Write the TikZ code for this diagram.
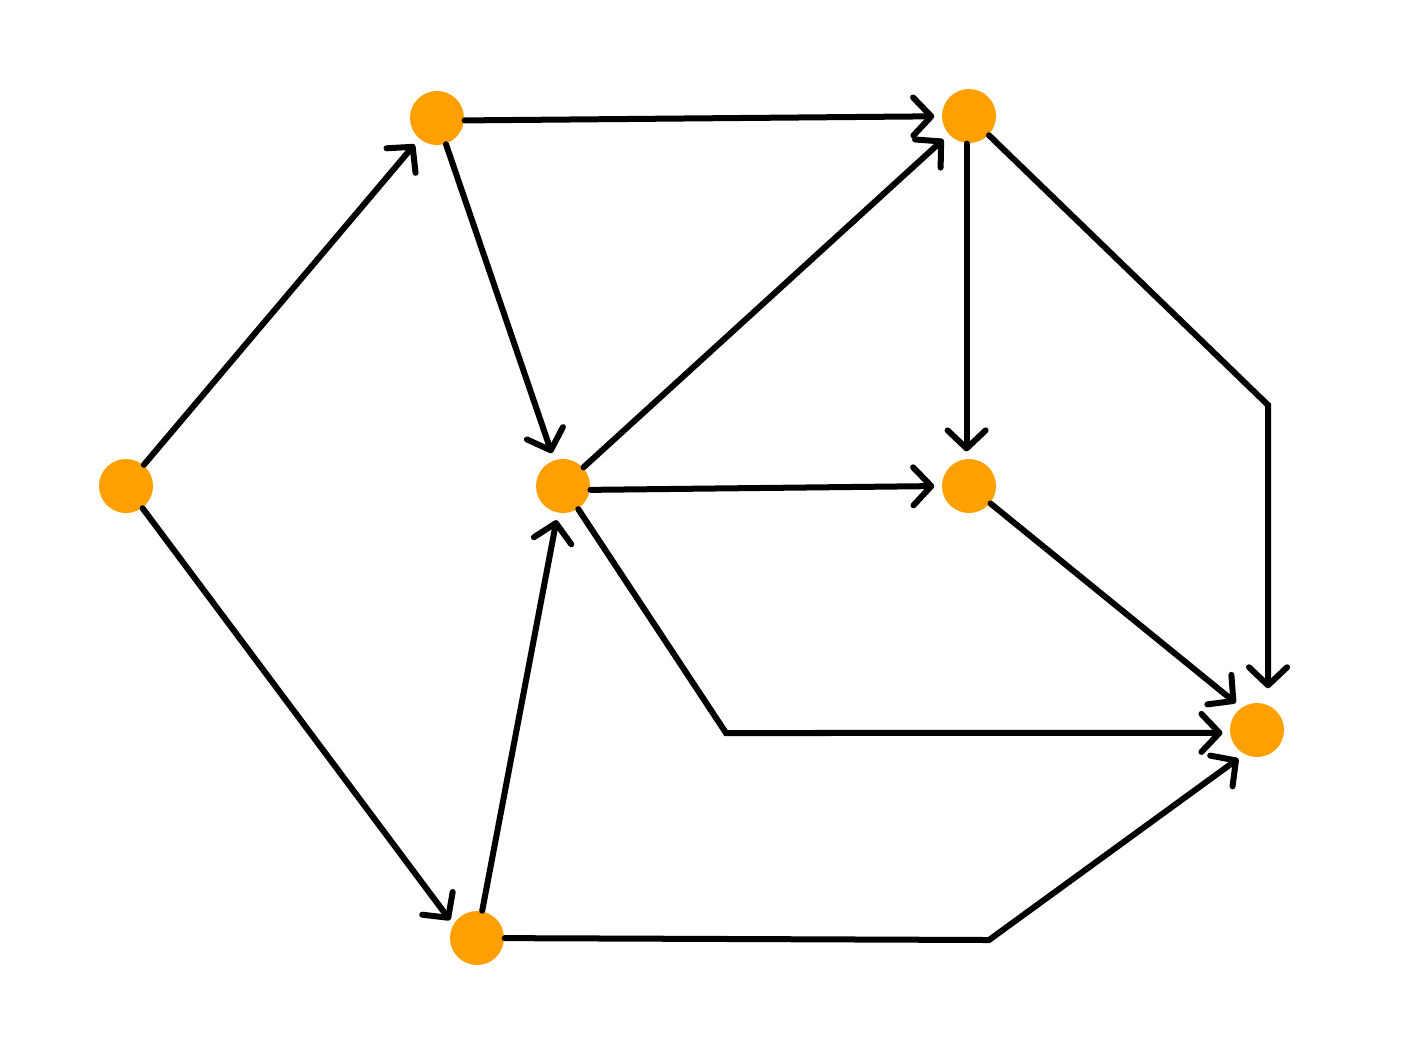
\documentclass[tikz,border=0pt]{standalone}
\usetikzlibrary{arrows.meta}
\definecolor{nodeorange}{RGB}{255,160,0}
\begin{document}
\begin{tikzpicture}[x=0.01cm,y=-0.01cm,
  dot/.style={circle,fill=nodeorange,draw=none,inner sep=0pt,minimum size=0.54cm},
  edge/.style={line width=0.06cm,black,line cap=round,line join=miter,
    -{Straight Barb[length=0.18cm,width=0.38cm,round]},shorten >=0.07cm}]
\useasboundingbox (0,0) rectangle (1404,1054);
\node[dot] (A) at (126,486) {};
\node[dot] (B) at (437,118) {};
\node[dot] (C) at (969,116) {};
\node[dot] (D) at (563,486) {};
\node[dot] (E) at (969,486) {};
\node[dot] (F) at (1257,730) {};
\node[dot] (G) at (477,938) {};
\draw[edge] (A) -- (B);
\draw[edge,shorten >=0.05cm] (A) -- (G.150);
\draw[edge] (B.-5) -- (C);
\draw[edge] (B) -- (D);
\draw[edge] (D) -- (C);
\draw[edge] (C.-95) -- (E.95);
\draw[edge] (D.-8) -- (E.180);
\draw[edge] (E) -- (F.125);
\draw[edge] (G) -- (D);
\draw[edge,shorten >=0.14cm] (C) -- (1268,405) -- (1268,405 |- F.north);
\draw[edge] (D) -- (726,733) -- (F.186);
\draw[edge] (G) -- (989,940) -- (F.-118);
\end{tikzpicture}
\end{document}
